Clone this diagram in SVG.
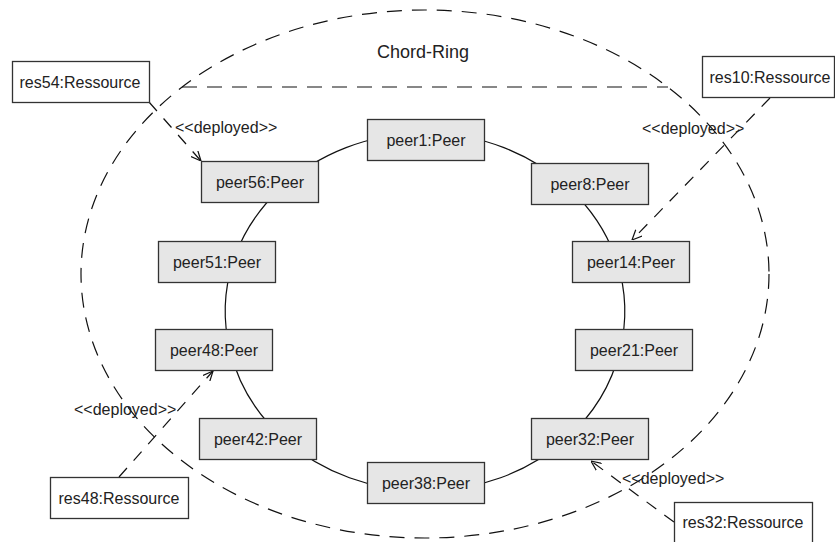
<svg xmlns="http://www.w3.org/2000/svg" width="835" height="542" viewBox="0 0 835 542">
  <style>
    .peer rect { fill: #e6e6e6; stroke: #333; stroke-width: 1.3; }
    .res rect { fill: #ffffff; stroke: #333; stroke-width: 1.3; }
    text { font-family: "Liberation Sans", Arial, sans-serif; font-size: 16px; fill: #222; }
    .c { text-anchor: middle; }
    .ring { fill: none; stroke: #111; stroke-width: 1.2; }
    .dep { fill: none; stroke: #111; stroke-width: 1.2; stroke-dasharray: 12 10; }
    .frame { fill: none; stroke: #111; stroke-width: 1.2; stroke-dasharray: 15 10; }
  </style>
  <defs>
    <marker id="open" viewBox="0 0 10 10" refX="10" refY="5" markerWidth="10" markerHeight="10" markerUnits="userSpaceOnUse" orient="auto">
      <path d="M0,0.5 L10,5 L0,9.5" fill="none" stroke="#111" stroke-width="1.2"/>
    </marker>
  </defs>
  <rect width="835" height="542" fill="#ffffff"/>

  <g id="chord-ring">
    <ellipse class="frame" cx="425" cy="274" rx="344" ry="264"/>
    <line class="frame" x1="182" y1="87" x2="668" y2="87"/>
    <text class="c" x="423" y="58" style="font-size:18px">Chord-Ring</text>
  </g>

  <g id="connectors">
    <path class="ring" d="M425,133 A200,179 0 0 1 570,189"/>
    <path class="ring" d="M570,189 A200,179 0 0 1 617,262"/>
    <path class="ring" d="M617,262 A200,179 0 0 1 620,350"/>
    <path class="ring" d="M620,350 A200,179 0 0 1 565,440"/>
    <path class="ring" d="M565,440 A200,179 0 0 1 425,491"/>
    <path class="ring" d="M425,491 A200,179 0 0 1 285,440"/>
    <path class="ring" d="M285,440 A200,179 0 0 1 230,350"/>
    <path class="ring" d="M230,350 A200,179 0 0 1 233,262"/>
    <path class="ring" d="M233,262 A200,179 0 0 1 280,189"/>
    <path class="ring" d="M280,189 A200,179 0 0 1 425,133"/>

    <line class="dep" x1="149" y1="102" x2="201" y2="161" marker-end="url(#open)"/>
    <text x="175" y="133">&lt;&lt;deployed&gt;&gt;</text>
    <line class="dep" x1="770" y1="98" x2="632" y2="240" marker-end="url(#open)"/>
    <text x="642" y="134">&lt;&lt;deployed&gt;&gt;</text>
    <line class="dep" x1="119" y1="477" x2="213" y2="371" marker-end="url(#open)"/>
    <text x="74" y="415">&lt;&lt;deployed&gt;&gt;</text>
    <line class="dep" x1="674" y1="522" x2="591" y2="461" marker-end="url(#open)"/>
    <text x="622" y="484">&lt;&lt;deployed&gt;&gt;</text>
  </g>

  <g id="peer1" class="peer"><rect x="367.5" y="119.5" width="117" height="41"/><text class="c" x="426" y="146">peer1:Peer</text></g>
  <g id="peer8" class="peer"><rect x="531.5" y="163.5" width="117" height="41"/><text class="c" x="590" y="190">peer8:Peer</text></g>
  <g id="peer14" class="peer"><rect x="572.5" y="241.5" width="117" height="41"/><text class="c" x="631" y="268">peer14:Peer</text></g>
  <g id="peer21" class="peer"><rect x="575.5" y="329.5" width="117" height="41"/><text class="c" x="634" y="356">peer21:Peer</text></g>
  <g id="peer32" class="peer"><rect x="531.5" y="418.5" width="117" height="41"/><text class="c" x="590" y="445">peer32:Peer</text></g>
  <g id="peer38" class="peer"><rect x="367.5" y="462.5" width="117" height="41"/><text class="c" x="426" y="489">peer38:Peer</text></g>
  <g id="peer42" class="peer"><rect x="199.5" y="418.5" width="117" height="41"/><text class="c" x="258" y="445">peer42:Peer</text></g>
  <g id="peer48" class="peer"><rect x="155.5" y="329.5" width="117" height="41"/><text class="c" x="214" y="356">peer48:Peer</text></g>
  <g id="peer51" class="peer"><rect x="158.5" y="241.5" width="117" height="41"/><text class="c" x="217" y="268">peer51:Peer</text></g>
  <g id="peer56" class="peer"><rect x="201.5" y="161.5" width="117" height="41"/><text class="c" x="260" y="188">peer56:Peer</text></g>

  <g id="res54" class="res"><rect x="12.5" y="61.5" width="137" height="41"/><text class="c" x="80" y="88">res54:Ressource</text></g>
  <g id="res10" class="res"><rect x="702.5" y="56.5" width="132" height="41"/><text class="c" x="770" y="83">res10:Ressource</text></g>
  <g id="res48" class="res"><rect x="50.5" y="477.5" width="138" height="41"/><text class="c" x="119" y="504">res48:Ressource</text></g>
  <g id="res32" class="res"><rect x="674.5" y="502.5" width="138" height="41"/><text class="c" x="743" y="528">res32:Ressource</text></g>
</svg>
